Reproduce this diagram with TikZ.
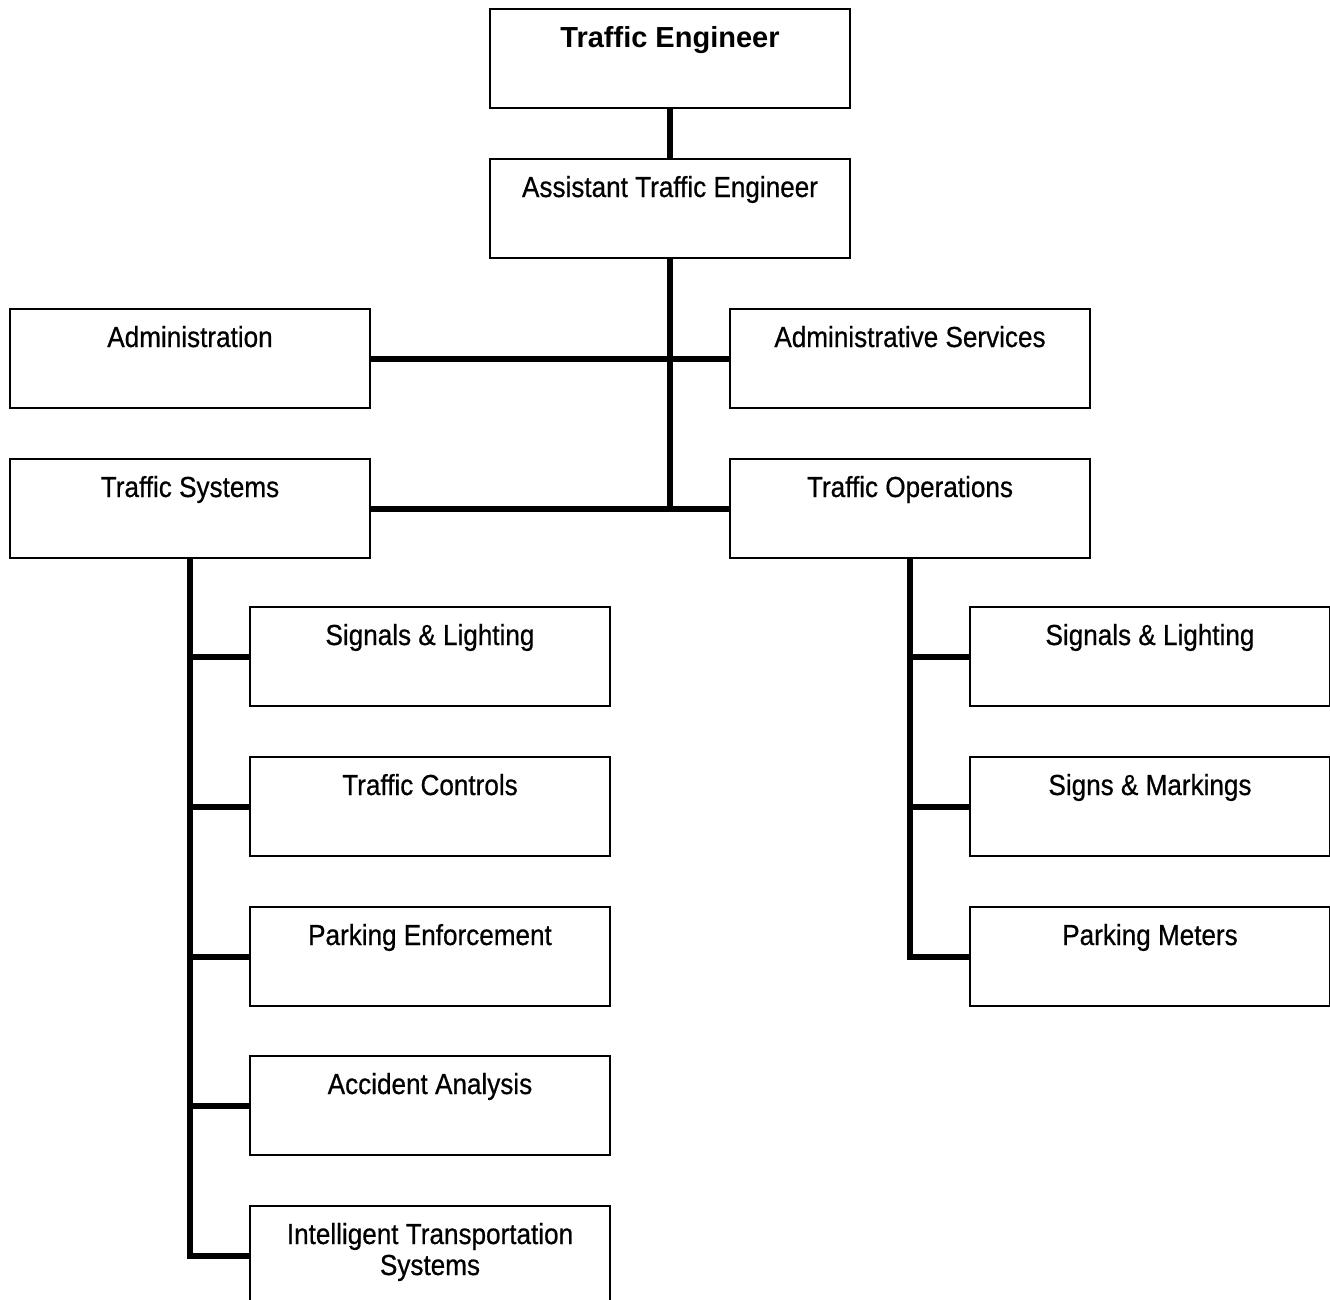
\documentclass[tikz,border=0pt]{standalone}
\usepackage{fontspec}
\setmainfont{Liberation Sans}
\newfontfamily\narrowfont[FakeStretch=0.9, FakeBold=0.6]{Liberation Sans}

\tikzset{
  orgbox/.style={draw, line width=2pt, minimum width=360pt, minimum height=99pt,
    inner sep=0pt, anchor=north west},
  boxtext/.style={font=\narrowfont\fontsize{29}{30}\selectfont, anchor=base,
    inner sep=0pt, align=center},
  headtext/.style={font=\bfseries\fontsize{29}{30}\selectfont, anchor=base, inner sep=0pt},
  link/.style={line width=6pt, line join=miter},
}

\begin{document}
\begin{tikzpicture}[x=1pt, y=-1pt]
  \useasboundingbox[fill=white] (0,0) rectangle (1330,1300);

  % top of the chart
  \node[orgbox] (te)  at (489,8)   {};
  \node[orgbox] (ate) at (489,158) {};
  \node[headtext] (te-t)  at ([yshift=-40pt]te.north)  {Traffic Engineer};
  \node[boxtext]  (ate-t) at ([yshift=-39pt]ate.north) {Assistant Traffic Engineer};

  % divisions
  \node[orgbox] (adm) at (9,308)   {};
  \node[orgbox] (as)  at (729,308) {};
  \node[orgbox] (ts)  at (9,458)   {};
  \node[orgbox] (to)  at (729,458) {};
  \node[boxtext] (adm-t) at ([yshift=-39pt]adm.north) {Administration};
  \node[boxtext] (as-t)  at ([yshift=-39pt]as.north)  {Administrative Services};
  \node[boxtext] (ts-t)  at ([yshift=-39pt]ts.north)  {Traffic Systems};
  \node[boxtext] (to-t)  at ([yshift=-39pt]to.north)  {Traffic Operations};

  % Traffic Systems sections
  \node[orgbox] (sl1) at (249,606)  {};
  \node[orgbox] (tc)  at (249,756)  {};
  \node[orgbox] (pe)  at (249,906)  {};
  \node[orgbox] (aa)  at (249,1055) {};
  \node[orgbox] (its) at (249,1205) {};
  \node[boxtext] (sl1-t) at ([yshift=-39pt]sl1.north) {Signals \& Lighting};
  \node[boxtext] (tc-t)  at ([yshift=-39pt]tc.north)  {Traffic Controls};
  \node[boxtext] (pe-t)  at ([yshift=-39pt]pe.north)  {Parking Enforcement};
  \node[boxtext] (aa-t)  at ([yshift=-39pt]aa.north)  {Accident Analysis};
  \node[boxtext] (its-t1) at ([yshift=-39pt]its.north) {Intelligent Transportation};
  \node[boxtext] (its-t2) at ([yshift=-70pt]its.north) {Systems};

  % Traffic Operations sections
  \node[orgbox] (sl2) at (969,606) {};
  \node[orgbox] (sm)  at (969,756) {};
  \node[orgbox] (pm)  at (969,906) {};
  \node[boxtext] (sl2-t) at ([yshift=-39pt]sl2.north) {Signals \& Lighting};
  \node[boxtext] (sm-t)  at ([yshift=-39pt]sm.north)  {Signs \& Markings};
  \node[boxtext] (pm-t)  at ([yshift=-39pt]pm.north)  {Parking Meters};

  % connectors
  \coordinate (hub) at (ate.south |- ts.east);
  \draw[link] (te.south) -- (ate.north);
  \draw[link] (ate.south) -- (hub);
  \draw[link] (adm.east) -- (as.west);
  \draw[link] (ts.east) -- (to.west);

  \draw[link] (ts.south) -- (ts.south |- its.west) -- (its.west);
  \foreach \b in {sl1, tc, pe, aa}
    \draw[link] (ts.south |- \b.west) -- (\b.west);

  \draw[link] (to.south) -- (to.south |- pm.west) -- (pm.west);
  \foreach \b in {sl2, sm}
    \draw[link] (to.south |- \b.west) -- (\b.west);
\end{tikzpicture}
\end{document}
